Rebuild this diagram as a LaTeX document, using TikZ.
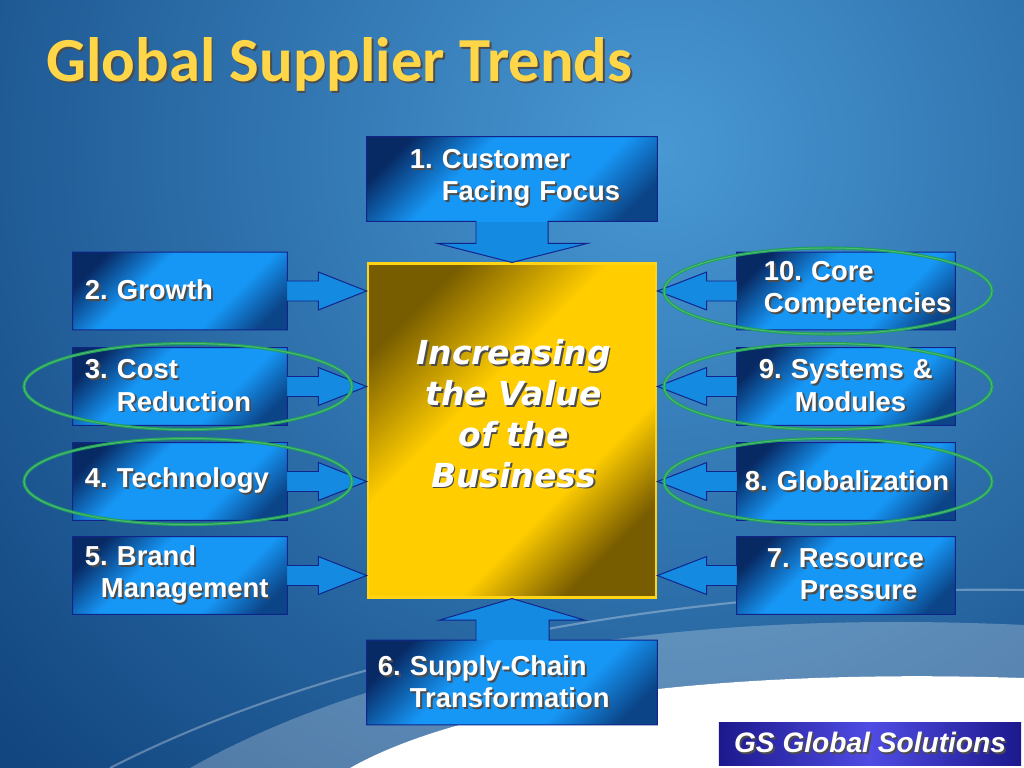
\documentclass[tikz,border=0pt]{standalone}
\usepackage{fontspec}
\setmainfont{Liberation Sans}
\newfontfamily\titlefont{Carlito}
\newfontfamily\valuefont{DejaVu Sans}
\usepackage{xcolor}
\usepackage{tikz}
\usetikzlibrary{shapes.geometric, arrows.meta, positioning, calc, backgrounds}
\definecolor{bgdark}{RGB}{18,70,128}
\definecolor{bglight}{RGB}{72,152,212}
\definecolor{calldark}{RGB}{8,42,100}
\definecolor{callbright}{RGB}{22,150,245}
\definecolor{calledge}{RGB}{16,36,140}
\definecolor{golddark}{RGB}{120,92,0}
\definecolor{goldlight}{RGB}{255,205,0}
\definecolor{goldedge}{RGB}{255,212,20}
\definecolor{ringcolor}{RGB}{30,160,90}
\definecolor{ringlight}{RGB}{80,185,115}
\definecolor{titlecolor}{RGB}{255,214,72}
\definecolor{gsdark}{RGB}{28,24,140}
\definecolor{gslight}{RGB}{80,76,228}

\pgfdeclarehorizontalshading{bluecorner}{100bp}{color(0bp)=(calldark); color(23bp)=(calldark); color(39bp)=(callbright); color(64bp)=(callbright); color(78bp)=(calldark!75!callbright); color(100bp)=(calldark!75!callbright)}
\pgfdeclarehorizontalshading{goldcorner}{100bp}{color(0bp)=(golddark); color(25bp)=(golddark); color(42bp)=(goldlight); color(63bp)=(goldlight); color(75bp)=(golddark); color(100bp)=(golddark)}

\pgfdeclarelayer{scenery}
\pgfsetlayers{scenery,background,main}

\newlength\pxu
\setlength\pxu{0.025cm}
\newcommand\shd[1]{\rlap{\kern1.3pt\raisebox{-1.3pt}{\textcolor{black!70}{#1}}}#1}

% callout outlines: box #1 pointing at box #2
\newcommand\rightpath[2]{(#1.north west) -- (#1.north east) -- ($(#1.east)+(0,-10)$) -- ++(31,0) -- ++(0,-9) -- (#1.east -| #2.west) -- ($(#1.east)+(31,19)$) -- ++(0,-9) -- ($(#1.east)+(0,10)$) -- (#1.south east) -- (#1.south west) -- cycle}
\newcommand\leftpath[2]{(#1.north east) -- (#1.north west) -- ($(#1.west)+(0,-10)$) -- ++(-30,0) -- ++(0,-9) -- (#1.west -| #2.east) -- ($(#1.west)+(-30,19)$) -- ++(0,-9) -- ($(#1.west)+(0,10)$) -- (#1.south west) -- (#1.south east) -- cycle}
\newcommand\downpath[2]{(#1.south west) -- (#1.north west) -- (#1.north east) -- (#1.south east) -- ($(#1.south)+(36,0)$) -- ++(0,22) -- ++(40,0) -- (#2.north) -- ($(#1.south)+(-75,22)$) -- ++(39,0) -- ($(#1.south)+(-36,0)$) -- cycle}
\newcommand\uppath[2]{(#1.north west) -- (#1.south west) -- (#1.south east) -- (#1.north east) -- ($(#1.north)+(37,0)$) -- ++(0,-20) -- ++(36,0) -- (#2.south) -- ($(#1.north)+(-73,-20)$) -- ++(37,0) -- ($(#1.north)+(-36,0)$) -- cycle}

\frenchspacing
\begin{document}
\begin{tikzpicture}[
    x=0.025cm, y=-0.025cm,
    callbox/.style={text=white, align=left, inner xsep=0pt, inner ysep=0pt, shading=bluecorner, shading angle=-45, font=\bfseries\fontsize{19.5}{22.8}\selectfont},
    sidebox/.style={callbox, text width=5.35cm, minimum height=1.925cm},
    rightbox/.style={callbox, text width=5.45cm, minimum height=1.925cm},
    endbox/.style={callbox, text width=7.25cm, minimum height=2.1cm},
    core/.style={draw=goldedge, line width=2pt, shading=goldcorner, shading angle=-45, minimum width=7.2cm, minimum height=8.33cm},
    callfill/.style={fill=callbright!92!black},
    calloutline/.style={draw=calledge, line width=0.7pt, line join=miter},
    ring/.style={ellipse, draw=ringcolor, line width=0.75pt, double=ringlight, double distance=0.7pt, minimum width=8.2cm, minimum height=2.15cm},
    gs/.style={left color=gsdark, right color=gsdark, middle color=gslight, minimum width=7.55cm, minimum height=1.075cm, inner sep=0pt, text=white, font=\bfseries\itshape\fontsize{20}{24}\selectfont}
]
    \useasboundingbox (0,0) rectangle (1024,768);
    \begin{pgfonlayer}{scenery}
        \begin{scope}
            \clip (0,0) rectangle (1024,768);
            \fill[bgdark] (0,0) rectangle (1024,768);
            \shade[inner color=bglight, outer color=bgdark] (660,150) circle (880);
            \fill[white, opacity=0.25] (190,768) .. controls (400,650) and (700,610) .. (1024,625) -- (1024,678) .. controls (720,668) and (470,700) .. (350,768) -- cycle;
            \fill[white] (350,768) .. controls (470,700) and (720,668) .. (1024,678) -- (1024,768) -- cycle;
            \draw[white, opacity=0.3, line width=1.5pt] (110,768) .. controls (360,640) and (720,585) .. (1024,590);
        \end{scope}
    \end{pgfonlayer}

    \node[anchor=base west, inner sep=0pt, text=titlecolor, font=\titlefont\bfseries\fontsize{44.6}{50}\selectfont] (title) at (46,82) {\shd{Global Supplier Trends}};

    \node[core] (core) at (512,430.5) {};
    \node[text=white, align=center, font=\valuefont\bfseries\itshape\fontsize{23.5}{29}\selectfont] (value) at (513.5,414.5) {\shd{Increasing}\\\shd{the Value}\\\shd{of the}\\\shd{Business}};

    \node[endbox] (focus) at (512,179) {\hspace*{43\pxu}\shd{1. Customer}\\\hspace*{75\pxu}\shd{Facing Focus}};
    \node[sidebox] (growth) at (180,291) {\hspace*{12\pxu}\shd{2. Growth}};
    \node[sidebox] (cost) at (180,386.5) {\hspace*{12\pxu}\shd{3. Cost}\\\hspace*{44\pxu}\shd{Reduction}};
    \node[sidebox] (tech) at (180,481.5) {\hspace*{12\pxu}\shd{4. Technology}};
    \node[sidebox] (brand) at (180,575.5) {\hspace*{12\pxu}\shd{5. Brand}\\\hspace*{28\pxu}\shd{Management}};
    \node[endbox] (supply) at (512,682.5) {\hspace*{11\pxu}\shd{6. Supply-Chain}\\\hspace*{43\pxu}\shd{Transformation}};
    \node[rightbox] (resource) at (846,575.5) {\hspace*{30\pxu}\shd{7. Resource}\\\hspace*{63\pxu}\shd{Pressure}};
    \node[rightbox] (globalize) at (846,481.5) {\hspace*{8\pxu}\shd{8. Globalization}};
    \node[rightbox] (systems) at (846,386.5) {\hspace*{22\pxu}\shd{9. Systems \&}\\\hspace*{58\pxu}\shd{Modules}};
    \node[rightbox] (competence) at (846,291) {\hspace*{27\pxu}\shd{10. Core}\\\hspace*{27\pxu}\shd{Competencies}};

    % arrow parts of the callouts, under the boxes
    \begin{pgfonlayer}{background}
        \fill[callfill] \downpath{focus}{core};
        \fill[callfill] \rightpath{growth}{core};
        \fill[callfill] \rightpath{cost}{core};
        \fill[callfill] \rightpath{tech}{core};
        \fill[callfill] \rightpath{brand}{core};
        \fill[callfill] \uppath{supply}{core};
        \fill[callfill] \leftpath{resource}{core};
        \fill[callfill] \leftpath{globalize}{core};
        \fill[callfill] \leftpath{systems}{core};
        \fill[callfill] \leftpath{competence}{core};
    \end{pgfonlayer}
    \draw[calloutline] \downpath{focus}{core};
    \draw[calloutline] \rightpath{growth}{core};
    \draw[calloutline] \rightpath{cost}{core};
    \draw[calloutline] \rightpath{tech}{core};
    \draw[calloutline] \rightpath{brand}{core};
    \draw[calloutline] \uppath{supply}{core};
    \draw[calloutline] \leftpath{resource}{core};
    \draw[calloutline] \leftpath{globalize}{core};
    \draw[calloutline] \leftpath{systems}{core};
    \draw[calloutline] \leftpath{competence}{core};

    % highlighted trends
    \node[ring] (ringcost) at ($(cost.center)+(8,0)$) {};
    \node[ring] (ringtech) at ($(tech.center)+(8,0)$) {};
    \node[ring] (ringcompetence) at ($(competence.center)+(-18,0)$) {};
    \node[ring] (ringsystems) at ($(systems.center)+(-18,0)$) {};
    \node[ring] (ringglobalize) at ($(globalize.center)+(-18,0)$) {};

    \node[gs] (gs) at (870,743.5) {\shd{GS Global Solutions}};
\end{tikzpicture}
\end{document}
